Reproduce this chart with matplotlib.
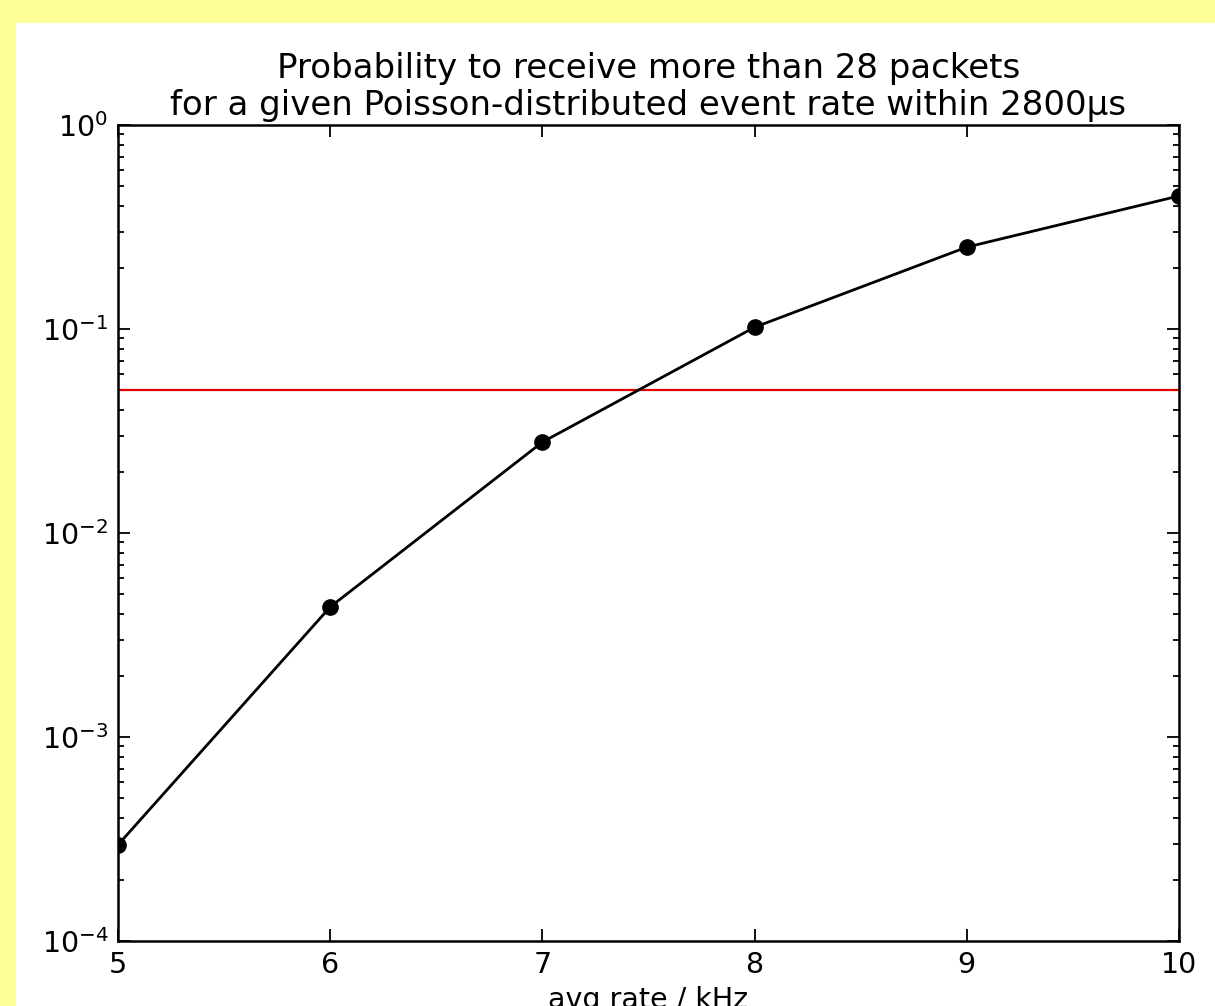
import matplotlib
matplotlib.use("Agg")
import matplotlib.pyplot as plt
from matplotlib.patches import Rectangle

rate_khz = [5, 6, 7, 8, 9, 10]
probability = [2.96e-4, 4.34e-3, 0.0279, 0.102, 0.252, 0.449]
threshold = 0.05
title = "Probability to receive more than 28 packets\nfor a given Poisson-distributed event rate within 2800\u00b5s"
xlabel = "avg rate / kHz"

W, H = 1215, 1006
fig = plt.figure(figsize=(W / 100, H / 100), dpi=100, facecolor="#ffff99")
bg = Rectangle((16 / W, 0), 1, 1 - 23 / H, transform=fig.transFigure,
               facecolor="white", edgecolor="none", zorder=-10)
fig.patches.append(bg)

ax = fig.add_axes([118 / W, (H - 941) / H, (1179 - 118) / W, (941 - 125) / H])
ax.set_zorder(5)
ax.set_yscale("log")
ax.plot(rate_khz, probability, color="black", lw=2.0, marker="o", ms=11, zorder=3)
ax.axhline(threshold, color="#e00000", lw=1.6, zorder=2)
ax.set_xlim(5, 10)
ax.set_ylim(1e-4, 1)
ax.set_xticks(rate_khz)

for s in ax.spines.values():
    s.set_linewidth(1.8)
ax.tick_params(which="both", direction="in", top=True, right=True, labelsize=20.5, width=1.3)
ax.tick_params(which="major", length=8.5, pad=7)
ax.tick_params(which="minor", length=4.5)
ax.tick_params(axis="x", which="minor", bottom=False, top=False)

ax.set_title(title, fontsize=24.5, pad=7.5, linespacing=1.12)
ax.set_xlabel(xlabel, fontsize=20.5, labelpad=5)

fig.savefig("out.png", dpi=100, facecolor=fig.get_facecolor())
